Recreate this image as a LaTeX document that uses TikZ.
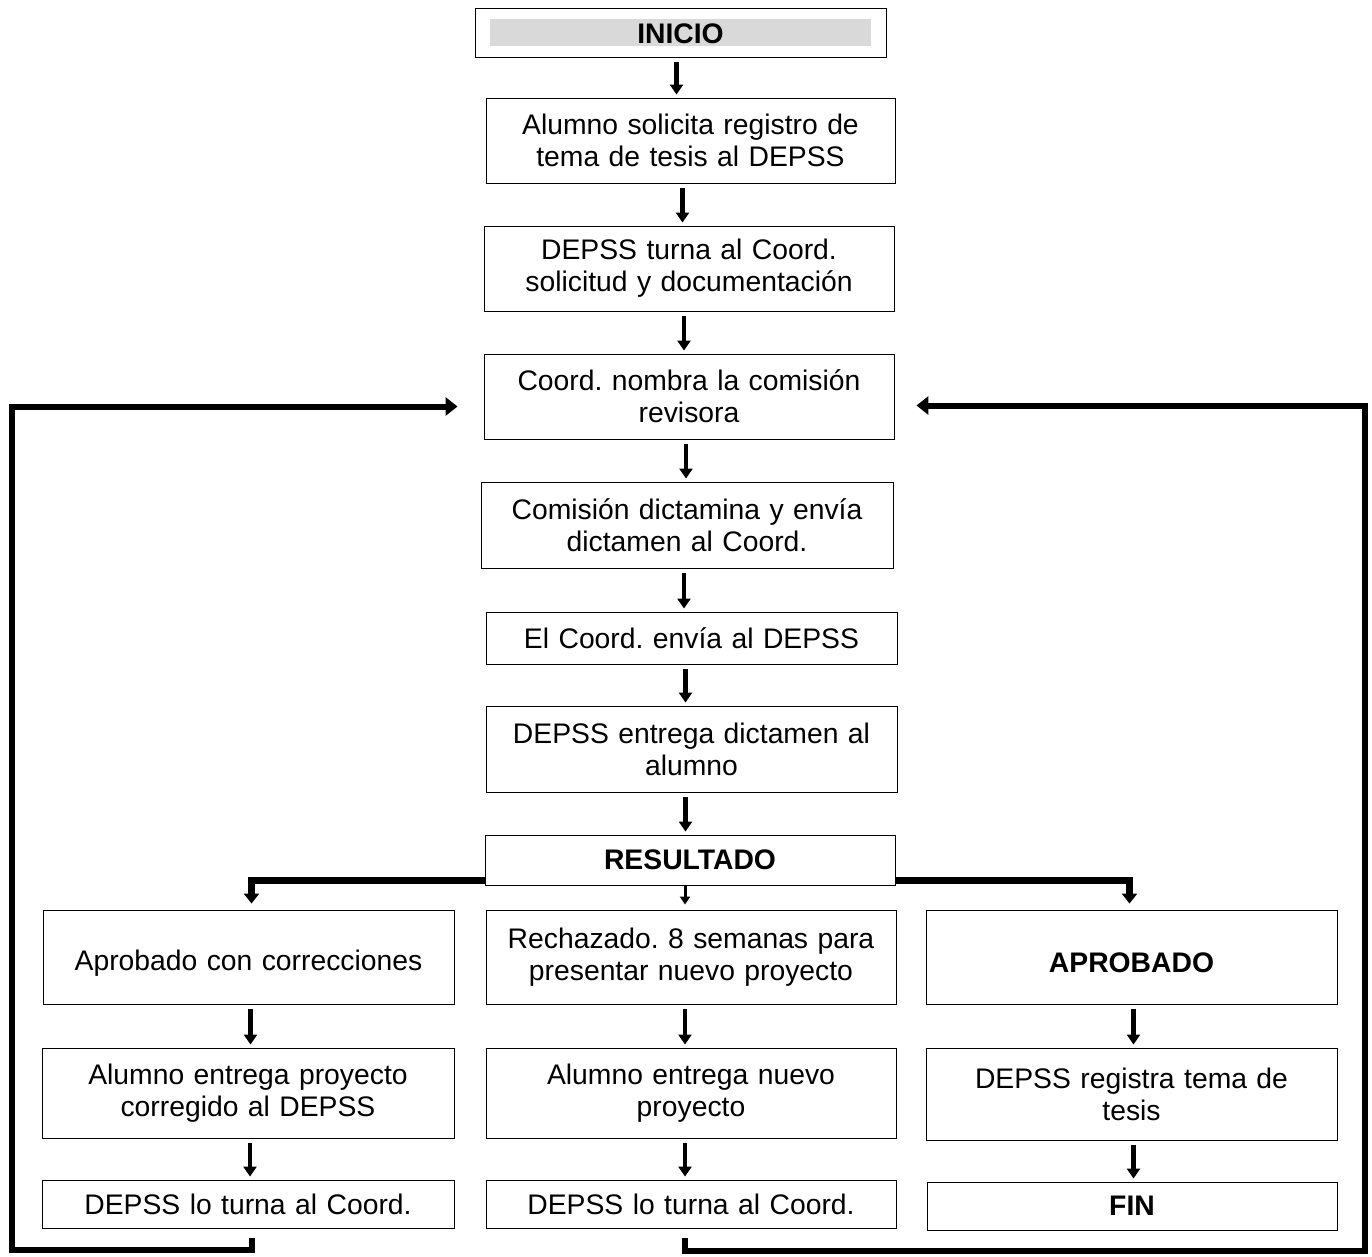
\documentclass[tikz,border=0pt]{standalone}
\usepackage{fontspec}
\setmainfont{Liberation Sans}
\usetikzlibrary{arrows.meta,calc}
\frenchspacing
\begin{document}
\begin{tikzpicture}[x=1pt,y=-1pt,
  box/.style={draw=black,line width=0.9pt,fill=white,inner sep=0pt,align=center,text width=400pt,
    font=\fontsize{28.3}{32}\selectfont},
  arr/.style={line width=4.5pt,-{Triangle[length=10pt,width=13pt]},shorten <=5pt,shorten >=3pt},
  branch/.style={line width=7pt,line join=miter,-{Triangle[length=10pt,width=15pt]}},
  loopline/.style={line width=6pt,line join=miter,-{Triangle[length=12pt,width=18pt]}}]
\useasboundingbox (0,0) rectangle (1372,1256);
% INICIO
\node[box,minimum width=411pt,minimum height=49pt] (ini) at (680.5,32.5) {};
\fill[black!15] (490,19) rectangle (871,46);
\node[font=\fontsize{28.3}{32}\selectfont\bfseries] (initxt) at (680.5,34) {INICIO};
% main column
\node[box,minimum width=409pt,minimum height=85pt] (b1) at (690.5,140.5) {Alumno solicita registro de\\tema de tesis al DEPSS};
\node[box,minimum width=410pt,minimum height=85pt] (b2) at (689,268.5) {DEPSS turna al Coord.\\solicitud y documentación};
\node[box,minimum width=410pt,minimum height=85pt] (b3) at (689,396.5) {Coord. nombra la comisión\\revisora};
\node[box,minimum width=412pt,minimum height=86pt] (b4) at (687,525) {Comisión dictamina y envía\\dictamen al Coord.};
\node[box,minimum width=411pt,minimum height=52pt] (b5) at (691.5,638) {El Coord. envía al DEPSS};
\node[box,minimum width=411pt,minimum height=86pt] (b6) at (691.5,749) {DEPSS entrega dictamen al\\alumno};
\node[box,minimum width=410pt,minimum height=50pt,font=\fontsize{28.3}{32}\selectfont\bfseries] (res) at (690,860) {RESULTADO};
% rows
\node[box,minimum width=411pt,minimum height=94pt] (l1) at (248.5,957) {\mbox{}\\Aprobado con correcciones};
\node[box,minimum width=410pt,minimum height=94pt] (m1) at (691,957) {Rechazado. 8 semanas para\\presentar nuevo proyecto};
\node[box,minimum width=411pt,minimum height=94pt,font=\fontsize{28.3}{32}\selectfont\bfseries] (r1) at (1131.5,957) {\mbox{}\\APROBADO};
\node[box,minimum width=412pt,minimum height=90pt] (l2) at (248,1093) {Alumno entrega proyecto\\corregido al DEPSS};
\node[box,minimum width=410pt,minimum height=90pt] (m2) at (691,1093) {Alumno entrega nuevo\\proyecto};
\node[box,minimum width=411pt,minimum height=92pt] (r2) at (1131.5,1094) {DEPSS registra tema de\\tesis};
\node[box,minimum width=412pt,minimum height=48pt] (l3) at (248,1204) {DEPSS lo turna al Coord.};
\node[box,minimum width=410pt,minimum height=48pt] (m3) at (691,1204) {DEPSS lo turna al Coord.};
\node[box,minimum width=410pt,minimum height=48pt,font=\fontsize{28.3}{32}\selectfont\bfseries] (r3) at (1132,1206) {FIN};
% main arrows
\draw[arr] ([xshift=-4pt]ini.south) -- ([xshift=-4pt]ini.south |- b1.north);
\draw[arr] ([xshift=-8pt]b1.south) -- ([xshift=-8pt]b1.south |- b2.north);
\draw[arr] ([xshift=-5pt]b2.south) -- ([xshift=-5pt]b2.south |- b3.north);
\draw[arr] ([xshift=-3pt]b3.south) -- ([xshift=-3pt]b3.south |- b4.north);
\draw[arr] ([xshift=-3pt]b4.south) -- ([xshift=-3pt]b4.south |- b5.north);
\draw[arr] ([xshift=-6pt]b5.south) -- ([xshift=-6pt]b5.south |- b6.north);
\draw[arr] ([xshift=-6pt]b6.south) -- ([xshift=-6pt]b6.south |- res.north);
% branches
\draw[branch] ([yshift=-20pt]res.west) -| ([xshift=3pt,yshift=6pt]l1.north);
\draw[branch] ([yshift=-20pt]res.east) -| ([xshift=-2pt,yshift=6pt]r1.north);
\draw[line width=3pt,-{Triangle[length=8pt,width=10pt]},shorten >=5pt] ([xshift=-5pt]res.south) -- ([xshift=-5pt]res.south |- m1.north);
% row arrows
\draw[arr] ([xshift=2pt]l1.south) -- ([xshift=2pt]l1.south |- l2.north);
\draw[arr] ([xshift=2pt]l2.south) -- ([xshift=2pt]l2.south |- l3.north);
\draw[arr] ([xshift=-6pt]m1.south) -- ([xshift=-6pt]m1.south |- m2.north);
\draw[arr] ([xshift=-6pt]m2.south) -- ([xshift=-6pt]m2.south |- m3.north);
\draw[arr] ([xshift=2pt]r1.south) -- ([xshift=2pt]r1.south |- r2.north);
\draw[arr] ([xshift=2pt]r2.south) -- ([xshift=2pt]r2.south |- r3.north);
% loops
\coordinate (lb) at (12,1250);
\coordinate (rb) at (1365,1251);
\draw[loopline] ([xshift=4pt,yshift=-10pt]l3.south) |- (lb) |- ([xshift=-26pt,yshift=-10pt]b3.west);
\draw[loopline] ([xshift=-6pt,yshift=-10pt]m3.south) |- (rb) |- ([xshift=22pt,yshift=-9pt]b3.east);
\end{tikzpicture}
\end{document}
